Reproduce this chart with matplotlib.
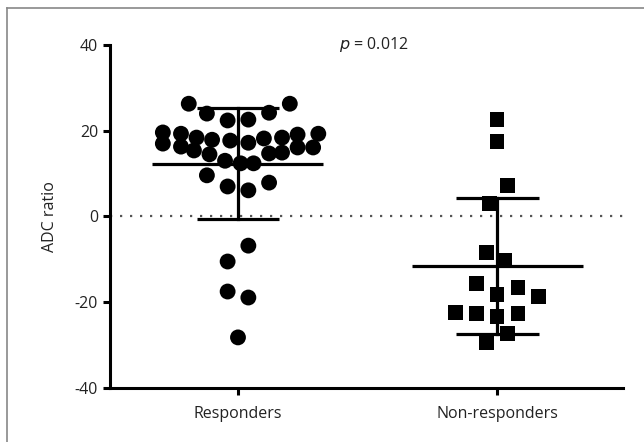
import numpy as np
import matplotlib
matplotlib.use('Agg')
import matplotlib.pyplot as plt
from matplotlib.lines import Line2D

plt.rcParams['font.family'] = ['Open Sans', 'DejaVu Sans']

groups = ['Responders', 'Non-responders']

resp_y = [26.3, 26.3, 24.0, 22.4, 22.6, 24.2,
          19.6, 19.3, 18.4, 17.9, 17.7, 17.2, 18.2, 18.4, 19.1, 19.3,
          17.0, 16.3, 15.4, 14.5, 14.7, 14.9, 16.1, 16.1,
          13.0, 12.4, 12.4,
          9.6, 7.0, 6.1, 7.9,
          -6.8, -10.5, -17.5, -18.9, -28.2]
resp_dx = [-0.19, 0.20, -0.12, -0.04, 0.04, 0.12,
           -0.29, -0.22, -0.16, -0.10, -0.03, 0.04, 0.10, 0.17, 0.23, 0.31,
           -0.29, -0.22, -0.17, -0.11, 0.12, 0.17, 0.23, 0.29,
           -0.05, 0.01, 0.06,
           -0.12, -0.04, 0.04, 0.12,
           0.04, -0.04, -0.04, 0.04, 0.0]

non_y = [22.6, 17.5, 7.2, 3.0, -8.4, -10.3, -15.6, -16.5, -18.2, -18.6,
         -22.4, -22.6, -23.3, -22.6, -27.3, -29.4]
non_dx = [0.0, 0.0, 0.04, -0.03, -0.04, 0.03, -0.08, 0.08, 0.0, 0.16,
          -0.16, -0.08, 0.0, 0.08, 0.04, -0.04]

# mean and SD
means = [12.3, -11.5]
sds = [13.0, 15.9]

fig = plt.figure(figsize=(6.44, 4.42), dpi=100)
ax = fig.add_axes([0.1708, 0.1222, 0.7966, 0.776])

ax.axhline(0, color='#555555', lw=1.6, ls=(0, (1, 3.5)), zorder=1)

ax.scatter(np.array(resp_dx), resp_y, s=130, marker='o', color='black',
           edgecolors='none', zorder=3)
ax.scatter(1 + np.array(non_dx), non_y, s=110, marker='s', color='black',
           edgecolors='none', zorder=3)

for i, (m, sd) in enumerate(zip(means, sds)):
    ax.plot([i - 0.33, i + 0.33], [m, m], color='black', lw=2.3, zorder=4,
            solid_capstyle='butt')
    ax.plot([i, i], [m - sd, m + sd], color='black', lw=2.3, zorder=4)
    for v in (m - sd, m + sd):
        ax.plot([i - 0.16, i + 0.16], [v, v], color='black', lw=2.3, zorder=4,
                solid_capstyle='butt')

ax.set_xlim(-0.494, 1.486)
ax.set_ylim(-40, 40)
ax.set_yticks([-40, -20, 0, 20, 40])
ax.set_yticklabels(['-40', '-20', '0', '20', '40'])
ax.set_xticks([0, 1])
ax.set_xticklabels(groups)

for s in ['top', 'right']:
    ax.spines[s].set_visible(False)
for s in ['left', 'bottom']:
    ax.spines[s].set_linewidth(2.2)
    ax.spines[s].set_capstyle('projecting')
ax.tick_params(width=2.2, length=5, labelsize=11.5, color='black',
               labelcolor='#222222')
ax.tick_params(axis='x', pad=8)
ax.set_ylabel('ADC ratio', fontsize=11.5, color='#222222', labelpad=12)

ax.text(0.525, 40, r'$p$ = 0.012', ha='center', va='center', fontsize=11.5,
        color='#222222')

# partial frame around the panel
fig.add_artist(Line2D([7 / 644, 7 / 644], [0, 1 - 8 / 442], color='#888888', lw=1.2))
fig.add_artist(Line2D([7 / 644, 1], [1 - 8 / 442, 1 - 8 / 442], color='#888888', lw=1.2))

fig.savefig('out.png', dpi=100)
